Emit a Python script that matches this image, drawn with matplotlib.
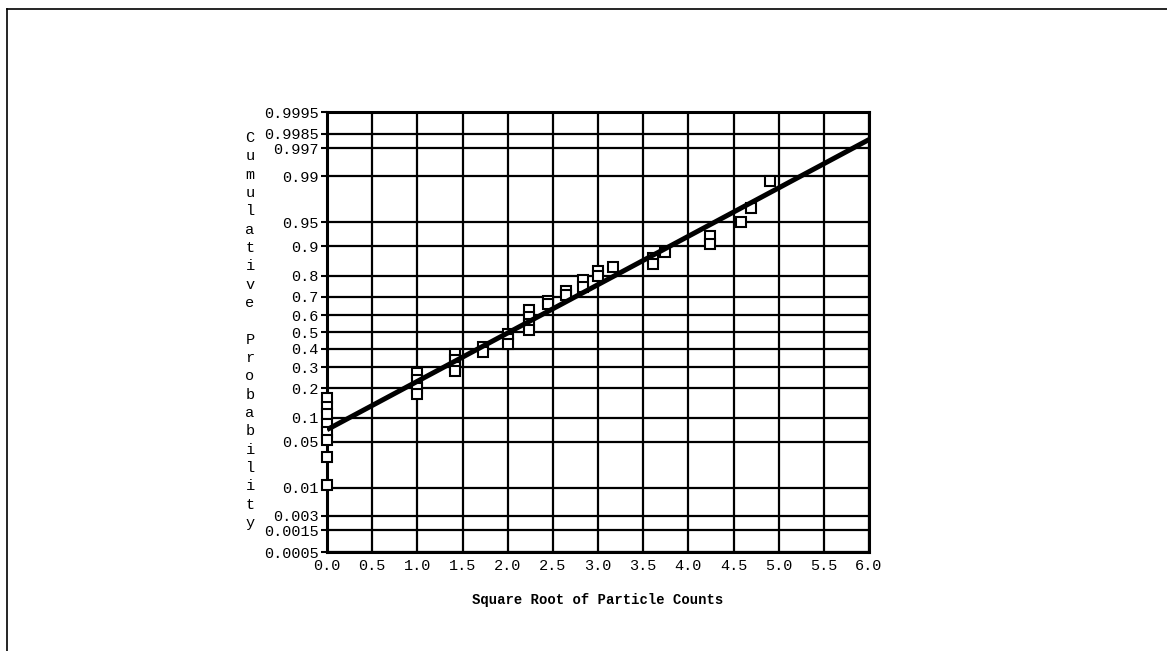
import math
import numpy as np
import matplotlib
matplotlib.use("Agg")
import matplotlib.pyplot as plt
from matplotlib.lines import Line2D
from matplotlib.ticker import NullLocator

plt.rcParams['font.family'] = ['Liberation Mono', 'DejaVu Sans Mono']

# particle counts and the cumulative probabilities plotted for each count
counts = [0, 1, 2, 3, 4, 5, 6, 7, 8, 9, 10, 13, 14, 18, 21, 22, 24]
cum_prob = [
    [0.16, 0.13, 0.11, 0.085, 0.068, 0.053, 0.031, 0.011],
    [0.27, 0.235, 0.20, 0.175],
    [0.37, 0.335, 0.30, 0.28],
    [0.41, 0.38],
    [0.49, 0.46, 0.43],
    [0.63, 0.59, 0.55, 0.51],
    [0.68, 0.66],
    [0.73, 0.71],
    [0.78, 0.75],
    [0.82, 0.80],
    [0.835],
    [0.865, 0.845],
    [0.885],
    [0.925, 0.905],
    [0.95],
    [0.968],
    [0.988],
]

# fitted line end points
fit_x = [0.0, 6.0]
fit_p = [0.072, 0.998]

yticks = [0.0005, 0.0015, 0.003, 0.01, 0.05, 0.1, 0.2, 0.3, 0.4, 0.5,
          0.6, 0.7, 0.8, 0.9, 0.95, 0.99, 0.997, 0.9985, 0.9995]
ytick_labels = ['0.0005', '0.0015', '0.003', '0.01', '0.05', '0.1', '0.2',
                '0.3', '0.4', '0.5', '0.6', '0.7', '0.8', '0.9', '0.95',
                '0.99', '0.997', '0.9985', '0.9995']
xticks = [0.0, 0.5, 1.0, 1.5, 2.0, 2.5, 3.0, 3.5, 4.0, 4.5, 5.0, 5.5, 6.0]

ylabel = 'Cumulative Probability'
xlabel = 'Square Root of Particle Counts'

# normal probability axis: lookup table between p and z
zg = np.linspace(-6, 6, 24001)
pg = 0.5 * (1 + np.array([math.erf(z / math.sqrt(2)) for z in zg]))

def prob_to_z(p):
    return np.interp(p, pg, zg)

def z_to_prob(z):
    return np.interp(z, zg, pg)

W, H = 1167, 651
fig = plt.figure(figsize=(W / 100, H / 100), dpi=100)
ax = fig.add_axes([327 / W, 1 - 552 / H, 542 / W, 440 / H])
ax.set_yscale('function', functions=(prob_to_z, z_to_prob))

for c, ps in zip(counts, cum_prob):
    xs = [math.sqrt(c)] * len(ps)
    ax.plot(xs, ps, 's', ms=7, mfc='white', mec='black', mew=1.5, zorder=3,
            clip_on=False)

ax.plot(fit_x, fit_p, color='black', lw=3.6, zorder=4, solid_capstyle='butt')

ax.set_xlim(0, 6)
ax.set_ylim(0.0005, 0.9995)
ax.set_xticks(xticks)
ax.set_xticklabels(['%.1f' % t for t in xticks], fontsize=11)
ax.set_yticks(yticks)
ax.set_yticklabels(ytick_labels, fontsize=11)
ax.yaxis.set_minor_locator(NullLocator())
ax.xaxis.set_minor_locator(NullLocator())
ax.tick_params(axis='y', length=4, width=1.5, pad=2)
ax.tick_params(axis='x', length=0, pad=5)
ax.grid(True, color='black', lw=1.6)
for s in ax.spines.values():
    s.set_linewidth(2.2)

# x axis title
fig.text(598 / W, 1 - 600 / H, xlabel, ha='center', va='center',
         fontsize=10, fontweight='bold')

# y axis title, one letter per row
for i, ch in enumerate(ylabel):
    fig.text(250 / W, 1 - (138 + i * 18.33) / H, ch, ha='center',
             va='center', fontsize=11)

# page frame on the top and left
fig.add_artist(Line2D([7 / W, 7 / W], [0, 1 - 9 / H], color='black', lw=1.2))
fig.add_artist(Line2D([7 / W, 1], [1 - 9 / H, 1 - 9 / H], color='black', lw=1.2))

fig.savefig('out.png', dpi=100)
